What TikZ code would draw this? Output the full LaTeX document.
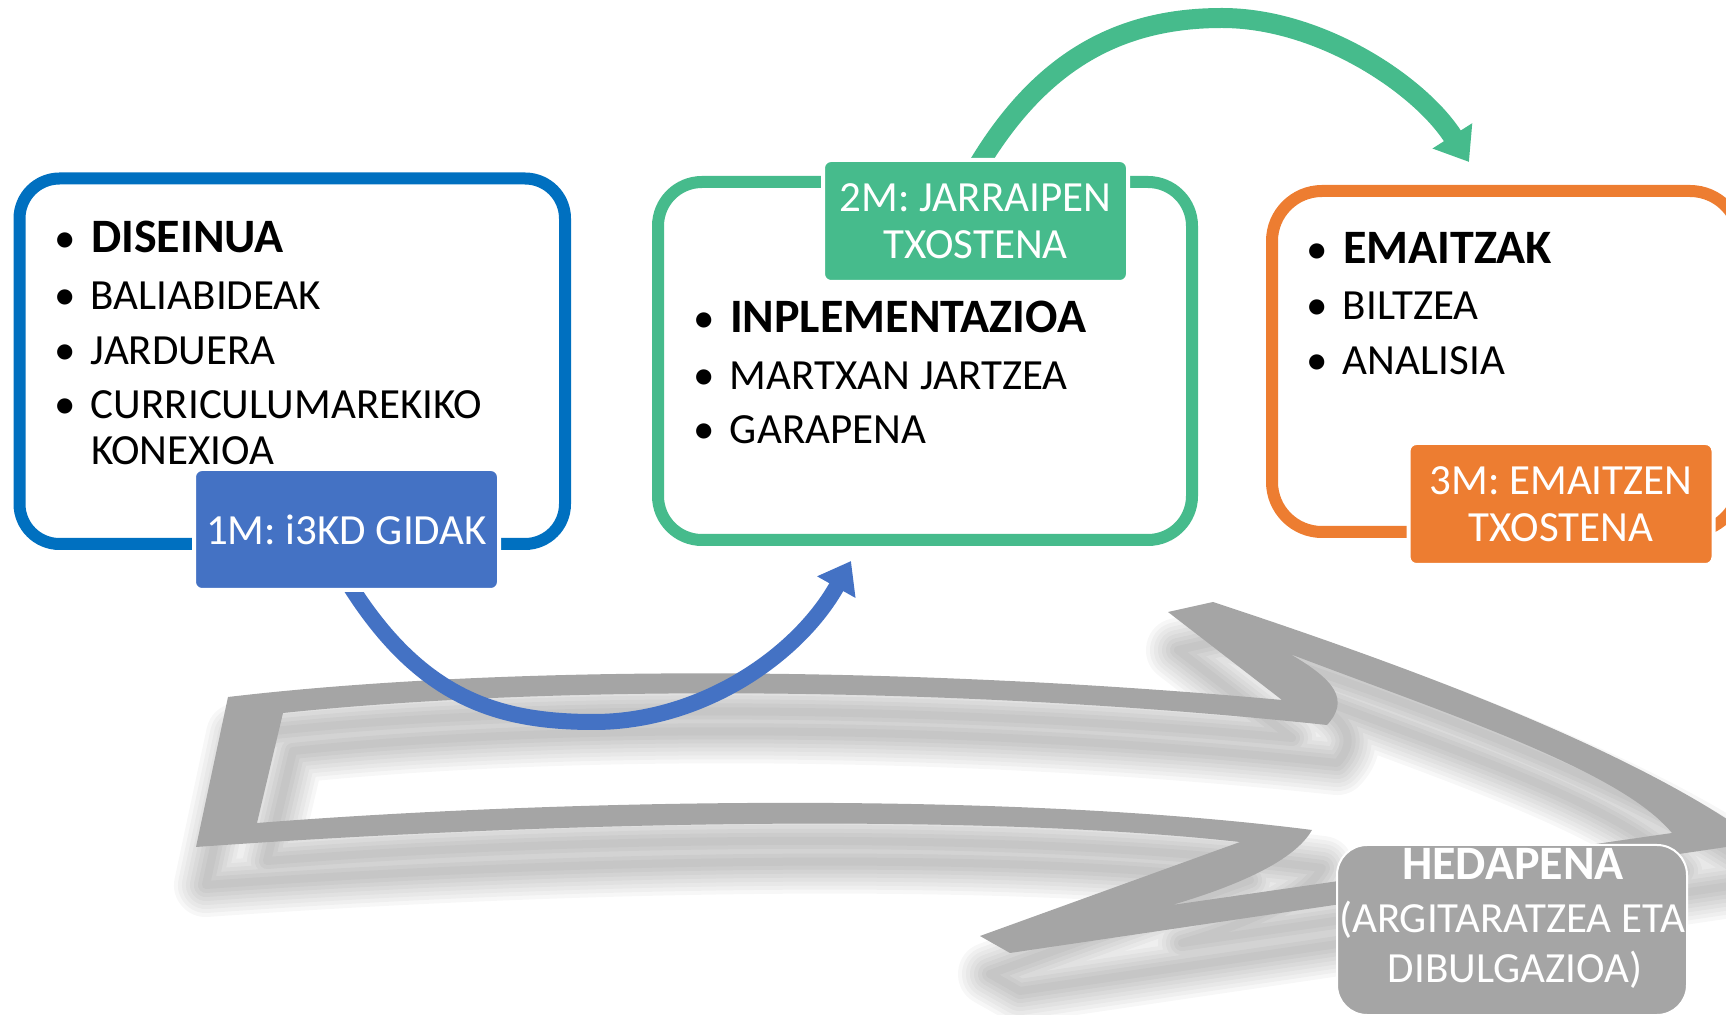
\documentclass[tikz,border=0pt]{standalone}
\usepackage{fontspec}
\setmainfont{Carlito}
\usetikzlibrary{arrows.meta}
\definecolor{frameblue}{RGB}{0,112,192}
\definecolor{accblue}{RGB}{68,114,196}
\definecolor{accgreen}{RGB}{70,187,140}
\definecolor{accorange}{RGB}{237,125,49}
\definecolor{accgray}{RGB}{165,165,165}
\pgfdeclarelayer{back}
\pgfdeclarelayer{arcs}
\pgfsetlayers{back,arcs,main}
\def\outerpath{(228,697) .. controls (500,665) and (900,665) .. (1282,700) -- (1168,612) -- (1213,602) .. controls (1450,680) and (1650,760) .. (1760,842) -- (1010,953) -- (980,936) -- (1240,842) .. controls (950,810) and (500,825) .. (196,847) -- cycle}
\def\innerpath{(283,713) .. controls (550,685) and (950,685) .. (1327,725) .. controls (1350,700) and (1335,680) .. (1290,654) .. controls (1450,715) and (1620,770) .. (1672,833) -- (1172,905) .. controls (1240,885) and (1295,860) .. (1312,830) .. controls (1000,790) and (550,800) .. (257,823) -- cycle}
\newcommand{\bul}{\llap{\makebox[13pt]{\fontsize{21.5}{25}\selectfont\mdseries •}\hspace{6.5pt}}}
\begin{document}
\begin{tikzpicture}[x=0.5pt,y=-0.5pt,
  every node/.style={inner sep=0pt, outer sep=0pt},
  itemtext/.style={anchor=base west, font=\fontsize{21.5}{25}\selectfont, text=black},
  itembold/.style={anchor=base west, font=\fontsize{24}{28}\selectfont\bfseries, text=black},
  frame/.style={draw=#1, line width=6pt, fill=white},
  mbox/.style={fill=#1, draw=white, line width=2pt, rounded corners=4pt, text=white, align=center,
     font=\fontsize{21.5}{23.5}\selectfont, minimum width=152.5pt, minimum height=61pt},
  hedtext/.style={anchor=base, text=white, font=\fontsize{21.5}{25}\selectfont},
  arcline/.style={line width=#1, line cap=butt}
]
\useasboundingbox (0,0) rectangle (1726,1015);

% big gray arrow with soft shadow
\begin{pgfonlayer}{back}
\begin{scope}[shift={(10,38)}]
\foreach \w in {4,8,...,32}{
  \path[draw=black, draw opacity=0.03, line width=\w pt, line join=round] \outerpath \innerpath;
}
\end{scope}
\fill[accgray, even odd rule] \outerpath \innerpath;
\end{pgfonlayer}

% frames
\node[frame=frameblue, rounded corners=20pt, minimum width=272.75pt, minimum height=182.75pt] (f1) at (292.25,361.25) {};
\node[frame=accgreen, rounded corners=22pt, minimum width=267pt, minimum height=179pt] (f2) at (925,361) {};
\node[frame=accorange, rounded corners=25pt, minimum width=234pt, minimum height=170.5pt] (f3) at (1506,361.5) {};

% label boxes
\node[mbox=accblue, minimum height=60.5pt] (m1) at (346.5,529.5) {1M: i3KD GIDAK};
\node[mbox=accgreen] (m2) at (975.5,221) {2M: JARRAIPEN\\TXOSTENA};
\node[mbox=accorange] (m3) at (1561,504) {3M: EMAITZEN\\TXOSTENA};

% HEDAPENA box
\node[fill=accgray, draw=white, line width=1pt, rounded corners=15pt, minimum width=175pt, minimum height=85pt] (hed) at (1512,930) {};
\node[hedtext, font=\fontsize{24}{28}\selectfont\bfseries] (h1) at (1513,880) {HEDAPENA};
\node[hedtext] (h2) at (1512,933) {(ARGITARATZEA ETA};
\node[hedtext] (h3) at (1515,983) {DIBULGAZIOA)};

% list texts
\node[itembold] (d1) at (91,253) {\bul DISEINUA};
\node[itemtext] (d2) at (91,310) {\bul BALIABIDEAK};
\node[itemtext] (d3) at (91,365) {\bul JARDUERA};
\node[itemtext] (d4) at (91,419) {\bul CURRICULUMAREKIKO};
\node[itemtext] (d5) at (91,465) {KONEXIOA};

\node[itembold] (i1) at (730,333) {\bul INPLEMENTAZIOA};
\node[itemtext] (i2) at (730,390) {\bul MARTXAN JARTZEA};
\node[itemtext] (i3) at (730,444) {\bul GARAPENA};

\node[itembold] (e1) at (1343,264) {\bul EMAITZAK};
\node[itemtext] (e2) at (1343,320) {\bul BILTZEA};
\node[itemtext] (e3) at (1343,375) {\bul ANALISIA};

% curved arrows
\coordinate (b0) at ([yshift=5pt]m1.south);
\coordinate (btip) at (851,561);
\coordinate (g0) at ([yshift=-5pt]m2.north);
\coordinate (gtip) at (1469,162);
\begin{pgfonlayer}{arcs}
\draw[accblue, arcline=8pt, -{Triangle[length=15pt,width=21pt]}] (b0) .. controls (420,700) and (500,722) .. (594,722) .. controls (700,722) and (797,657) .. (btip);
\draw[accgreen, arcline=10pt, -{Triangle[length=15.5pt,width=22.5pt]}] (g0) .. controls (1040,60) and (1120,18) .. (1222,18) .. controls (1320,18) and (1420,85) .. (gtip);
\end{pgfonlayer}
\end{tikzpicture}
\end{document}
